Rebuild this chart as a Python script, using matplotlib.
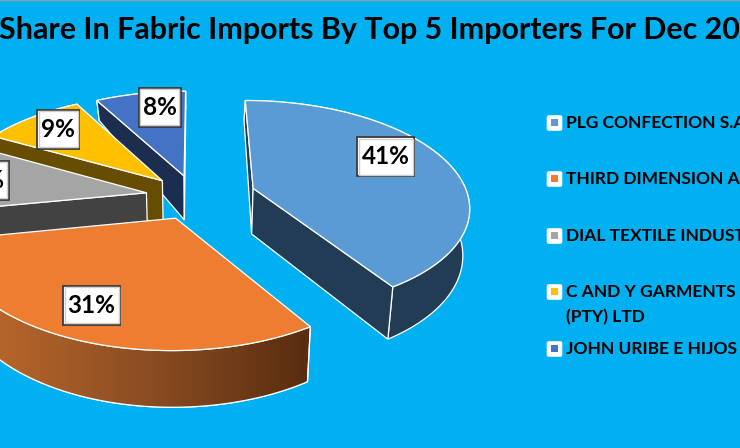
#!/usr/bin/env python3
# exploded perspective pie, drawn by hand since matplotlib's pie is flat
import numpy as np
import matplotlib
matplotlib.use('Agg')
import matplotlib.pyplot as plt
from matplotlib.colors import LinearSegmentedColormap
from matplotlib.patches import Polygon, FancyBboxPatch, Rectangle

# %% data
names = ['PLG CONFECTION S.A', 'THIRD DIMENSION A', 'DIAL TEXTILE INDUST',
         'C AND Y GARMENTS\n(PTY) LTD', 'JOHN URIBE E HIJOS']
shares = [41, 31, 11, 9, 8]
explode = [0.285, 0.22, 0.23, 0.22, 0.21]
top_colours = ['#5B9BD5', '#ED7D31', '#A5A5A5', '#FFC000', '#4472C4']
side_colours = ['#223C56', '#5A2D10', '#424242', '#664D00', '#1B2E50']
label_xy = [(385.5, 157), (91.5, 305.5), (-20, 180.5), (58, 129.5), (159.5, 107.5)]
legend_y = [123, 179, 236, 292, 349]
title = 'Share In Fabric Imports By Top 5 Importers For Dec 2019'
BG = '#00B0F0'

# projection constants, screen pixels
CX, CY = 195, 196.5
A, B = 215, 104
K = 0.157


def project(u, v, lower=False):
    u, v = np.asarray(u, float), np.asarray(v, float)
    den = 1 + K * v
    x = CX + A * u / den
    y = CY - B * v / den
    if lower:
        # far side of the extrusion gets thinner quicker than the near side
        depth = np.where(v > 0, 46 / (1 + 1.1 * v ** 2), 46 / (1 + K * v))
        x = CX + (x - CX) * 0.975
        y = y + depth
    return np.column_stack([x, y])


def slice_outline(start, end, exp):
    mid = (start + end) / 2
    u0, v0 = exp * np.sin(mid), exp * np.cos(mid)
    th = np.linspace(start, end, 80)
    return u0, v0, u0 + np.sin(th), v0 + np.cos(th)


def faces_viewer(apex, tip, inner):
    # a radial wall shows only if dropping it moves away from the slice's inside
    edge = tip - apex
    side_in = edge[0] * (inner - apex)[1] - edge[1] * (inner - apex)[0]
    side_down = edge[0] * 1.0
    return side_in * side_down < 0


fig = plt.figure(figsize=(7.4, 4.48), dpi=100, facecolor=BG)
ax = fig.add_axes([0, 0, 1, 1])
ax.set_xlim(0, 740)
ax.set_ylim(448, 0)
ax.axis('off')
ax.add_patch(Rectangle((0, 0), 740, 1, color='#9A9A9A', lw=0, zorder=20))

edges = np.cumsum([0] + shares) / sum(shares) * 2 * np.pi

# far slices first so the orange and the big blue one sit on top
for z, i in enumerate([4, 3, 2, 1, 0]):
    u0, v0, u, v = slice_outline(edges[i], edges[i + 1], explode[i])
    base = 2 + z * 2
    top = project(u, v)
    low = project(u, v, lower=True)
    apex = project(u0, v0)[0]
    inner = top[40]

    rim = Polygon(np.vstack([top, low[::-1]]), fc=side_colours[i],
                  ec='white', lw=0.9, zorder=base)
    ax.add_patch(rim)
    if i == 1:
        # only this slice has a shaded rim
        grad = np.linspace(0, 1, 256).reshape(1, -1)
        cmap = LinearSegmentedColormap.from_list('rim', ['#B5652B', '#8A4C22', '#5A2D10'])
        im = ax.imshow(grad, cmap=cmap, aspect='auto', zorder=base,
                       extent=(0, 306, 410, 300))
        im.set_clip_path(rim)
        ax.add_patch(Polygon(np.vstack([top, low[::-1]]), fc='none',
                             ec='white', lw=0.9, zorder=base))

    for k in (0, -1):
        if not faces_viewer(apex, top[k], inner):
            continue
        t = project([u0, u[k]], [v0, v[k]])
        b = project([u0, u[k]], [v0, v[k]], lower=True)
        ax.add_patch(Polygon(np.vstack([t, b[::-1]]), fc=side_colours[i],
                             ec='white', lw=0.9, zorder=base))

    face = np.vstack([apex, top])
    ax.add_patch(Polygon(face, fc=top_colours[i], ec='white', lw=0.9, zorder=base + 1))

ax.set_xlim(0, 740)
ax.set_ylim(448, 0)

# percent labels, white bevelled boxes
for i, (x, y) in enumerate(label_xy):
    s = f'{shares[i]}%'
    w = 12 + 15 * len(s)
    ax.add_patch(Rectangle((x - w / 2, y - 19.5), w, 39, fc='white', ec='#3A3A3A',
                           lw=1.3, zorder=30))
    ax.add_patch(Rectangle((x - w / 2 + 1.5, y - 18), w - 3, 36, fc='none', ec='#CFCFCF',
                           lw=1, zorder=30))
    ax.text(x, y, s, family='Lato', weight='bold', fontsize=17.5,
            ha='center', va='center', color='black', zorder=31)

# title, runs off the right side like the source
ax.text(-1, 30, title, family='Lato', weight='bold', fontsize=21.9, ha='left',
        va='center', color='black', zorder=30)

# legend
for i, y in enumerate(legend_y):
    ax.add_patch(FancyBboxPatch((547.5, y - 7), 14, 14,
                                boxstyle='round,pad=0.8,rounding_size=2',
                                fc='white', ec='none', zorder=30))
    ax.add_patch(Rectangle((551, y - 3.5), 7, 7, fc=top_colours[i], ec='none', zorder=31))
    for j, line in enumerate(names[i].split('\n')):
        ax.text(566, y + j * 25, line, family='Lato', weight='bold', fontsize=12.5,
                ha='left', va='center', color='black', zorder=31)

fig.savefig('out.png', dpi=100, facecolor=BG)
